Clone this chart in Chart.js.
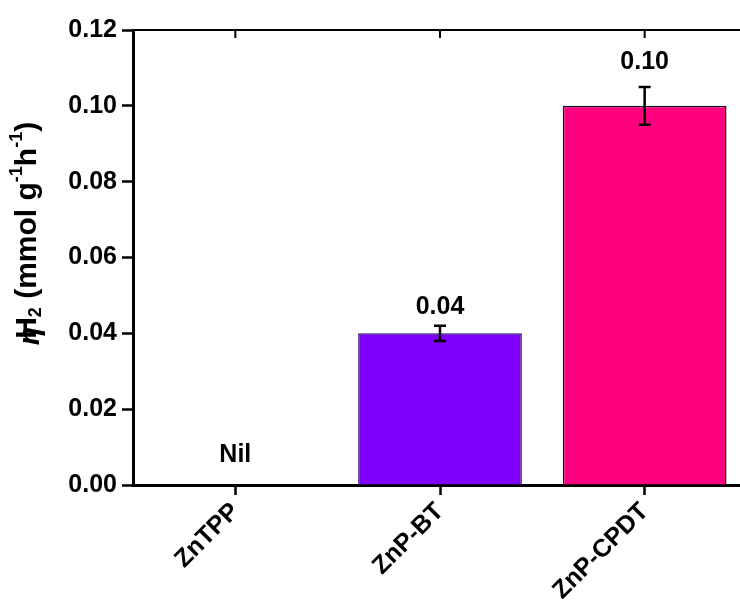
<!DOCTYPE html>
<html>
<head>
<meta charset="utf-8">
<script src="https://cdn.jsdelivr.net/npm/chart.js@4"></script>
<style>
  html, body { margin: 0; padding: 0; background: #fff; overflow: hidden; }
  #chart { display: block; }
</style>
</head>
<body>
<canvas id="chart" width="750" height="600"></canvas>
<script>
const CATEGORIES = ['ZnTPP', 'ZnP-BT', 'ZnP-CPDT'];
const RATES = [0, 0.04, 0.10];
const ERRORS = [0, 0.002, 0.005];
const BAR_COLORS = ['#ffffff', '#8000ff', '#ff0080'];
const LABEL_TEXT = ['Nil', '0.04', '0.10'];
const LABEL_AT = [0.008, 0.047, 0.1115];
const Y_TICKS = [0, 0.02, 0.04, 0.06, 0.08, 0.10, 0.12];

const FONT = "'Liberation Sans', Arial, sans-serif";
const TICK_FONT = { family: FONT, size: 25, weight: 'bold' };

// error bars, value labels and the top frame line
const extrasPlugin = {
  id: 'extras',
  afterDatasetsDraw(chart) {
    const { ctx, chartArea, scales } = chart;
    const meta = chart.getDatasetMeta(0);
    ctx.save();
    ctx.strokeStyle = '#000';
    ctx.lineWidth = 2.5;
    meta.data.forEach((bar, i) => {
      if (!ERRORS[i]) return;
      const yHi = scales.y.getPixelForValue(RATES[i] + ERRORS[i]);
      const yLo = scales.y.getPixelForValue(RATES[i] - ERRORS[i]);
      ctx.beginPath();
      ctx.moveTo(bar.x, yHi); ctx.lineTo(bar.x, yLo);
      ctx.moveTo(bar.x - 6, yHi); ctx.lineTo(bar.x + 6, yHi);
      ctx.moveTo(bar.x - 6, yLo); ctx.lineTo(bar.x + 6, yLo);
      ctx.stroke();
    });
    ctx.fillStyle = '#000';
    ctx.font = `bold 25px ${FONT}`;
    ctx.textAlign = 'center';
    ctx.textBaseline = 'middle';
    meta.data.forEach((bar, i) => {
      ctx.fillText(LABEL_TEXT[i], bar.x, scales.y.getPixelForValue(LABEL_AT[i]));
    });
    // top frame with inward ticks
    ctx.lineWidth = 2;
    ctx.beginPath();
    ctx.moveTo(chartArea.left, chartArea.top);
    ctx.lineTo(chartArea.right, chartArea.top);
    meta.data.forEach((bar) => {
      ctx.moveTo(bar.x, chartArea.top);
      ctx.lineTo(bar.x, chartArea.top + 8);
    });
    ctx.stroke();
    ctx.restore();
  },
  afterDraw(chart) {
    // y axis title with sub/superscripts
    const { ctx, chartArea } = chart;
    const parts = [
      { t: 'η', size: 30, italic: true, dy: 3, dx: -12 },
      { t: 'H', size: 30, dy: 0 },
      { t: '2', size: 18, dy: 8 },
      { t: ' (mmol g', size: 30, dy: 0 },
      { t: '-1', size: 18, dy: -11 },
      { t: 'h', size: 30, dy: 0 },
      { t: '-1', size: 18, dy: -11 },
      { t: ')', size: 30, dy: 0 }
    ];
    const fontOf = (p) => `${p.italic ? 'italic ' : ''}bold ${p.size}px ${FONT}`;
    ctx.save();
    let total = 0;
    parts.forEach((p) => { ctx.font = fontOf(p); p.w = ctx.measureText(p.t).width; total += p.w + (p.dx || 0); });
    const cy = (chartArea.top + chartArea.bottom) / 2 - 24;
    ctx.translate(28, cy);
    ctx.rotate(-Math.PI / 2);
    ctx.fillStyle = '#000';
    ctx.textBaseline = 'middle';
    ctx.textAlign = 'left';
    let x = -total / 2;
    parts.forEach((p) => {
      ctx.font = fontOf(p);
      ctx.fillText(p.t, x, p.dy);
      x += p.w + (p.dx || 0);
    });
    ctx.restore();
  }
};

new Chart(document.getElementById('chart'), {
  type: 'bar',
  data: {
    labels: CATEGORIES,
    datasets: [{
      data: RATES,
      backgroundColor: BAR_COLORS,
      borderColor: ['#000', '#3a1070', '#111'],
      borderWidth: [0, 1.5, 1.5],
      borderSkipped: 'bottom',
      categoryPercentage: 1,
      barPercentage: 0.8
    }]
  },
  options: {
    responsive: false,
    animation: false,
    events: [],
    layout: { padding: { top: 30, right: 3, left: 0, bottom: 0 } },
    plugins: { legend: { display: false }, tooltip: { enabled: false } },
    scales: {
      x: {
        grid: { display: true, drawOnChartArea: false, offset: false, tickLength: 10, tickWidth: 2.5, tickColor: '#000' },
        border: { display: true, color: '#000', width: 3 },
        ticks: { color: '#000', font: TICK_FONT, maxRotation: 45, minRotation: 45, padding: 2 },
        afterFit(scale) { scale.height = 115; }
      },
      y: {
        min: 0,
        max: 0.12,
        afterBuildTicks(scale) { scale.ticks = Y_TICKS.map((v) => ({ value: v })); },
        grid: { display: true, drawOnChartArea: false, tickLength: 11, tickWidth: 2.5, tickColor: '#000' },
        border: { display: true, color: '#000', width: 3 },
        ticks: { color: '#000', font: TICK_FONT, padding: 5, callback: (v) => Number(v).toFixed(2) },
        afterFit(scale) { scale.width = 133; }
      }
    }
  },
  plugins: [extrasPlugin]
});
</script>
</body>
</html>
